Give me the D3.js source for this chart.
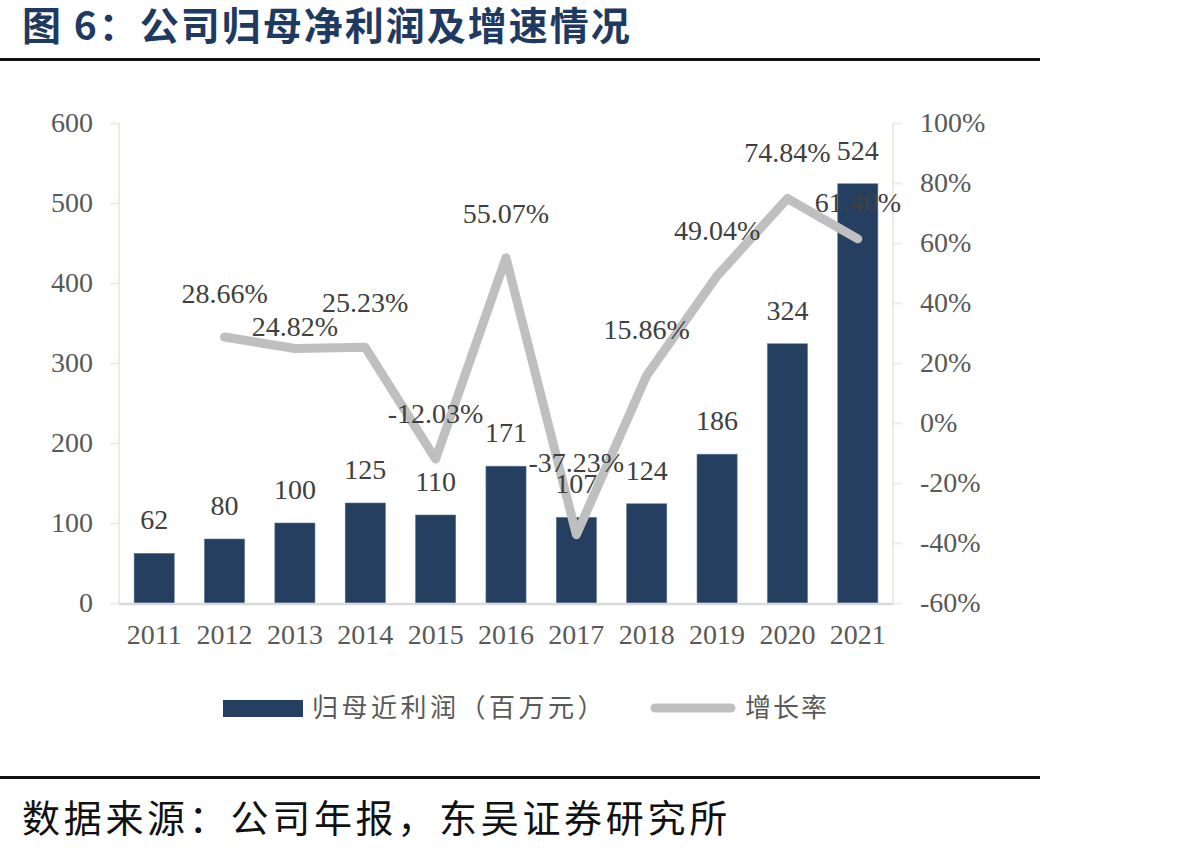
<!DOCTYPE html>
<html>
<head>
<meta charset="utf-8">
<script src="https://cdn.jsdelivr.net/npm/d3@7/dist/d3.min.js"></script>
<style>
  html, body { margin: 0; padding: 0; background: #fff; }
  svg { display: block; }
</style>
</head>
<body>
<svg id="chart" width="1182" height="852"></svg>
<script>
// ---- data ----
const years = ["2011","2012","2013","2014","2015","2016","2017","2018","2019","2020","2021"];
const profit = [62, 80, 100, 125, 110, 171, 107, 124, 186, 324, 524];
const growth = [null, 28.66, 24.82, 25.23, -12.03, 55.07, -37.23, 15.86, 49.04, 74.84, 61.40];
const leftTicks = [0, 100, 200, 300, 400, 500, 600];
const rightTicks = [-60, -40, -20, 0, 20, 40, 60, 80, 100];
const titleText = "图 6：公司归母净利润及增速情况";
const sourceText = "数据来源：公司年报，东吴证券研究所";
const legendBar = "归母近利润（百万元）";
const legendLine = "增长率";

// ---- layout ----
const svg = d3.select("#chart");
const plotL = 119, plotR = 893, plotT = 123, plotB = 603;
const serif = "'Liberation Serif', 'Times New Roman', serif";
const cjk = "'Noto Sans CJK SC', 'Noto Sans', sans-serif";
const barColor = "#253f61";
const lineColor = "#bfbfbf";

const x = d3.scaleBand().domain(years).range([plotL, plotR]).paddingInner(0.43).paddingOuter(0.215);
const yL = d3.scaleLinear().domain([0, 600]).range([plotB, plotT]);
const yR = d3.scaleLinear().domain([-60, 100]).range([plotB, plotT]);

svg.append("rect").attr("width", 1182).attr("height", 852).attr("fill", "#fff");

// title
svg.append("text").attr("x", 22).attr("y", 40)
  .attr("font-family", cjk).attr("font-weight", 700).attr("font-size", 39)
  .attr("fill", "#1f3a60").attr("letter-spacing", 2)
  .text(titleText);
svg.append("rect").attr("x", 0).attr("y", 58).attr("width", 1040).attr("height", 3).attr("fill", "#111");

// left axis
const gL = svg.append("g").attr("transform", `translate(${plotL},0)`)
  .call(d3.axisLeft(yL).tickValues(leftTicks).tickSize(9).tickPadding(17).tickFormat(d3.format("d")));
gL.select(".domain").attr("stroke", "#eeece1").attr("stroke-width", 2).attr("d", `M0,${plotT}V${plotB}`);
gL.selectAll(".tick line").attr("stroke", "#eeece1").attr("stroke-width", 2);
gL.selectAll(".tick text").attr("font-family", serif).attr("font-size", 28).attr("fill", "#595959");

// right axis
const gR = svg.append("g").attr("transform", `translate(${plotR},0)`)
  .call(d3.axisRight(yR).tickValues(rightTicks).tickSize(9).tickPadding(18).tickFormat(d => d + "%"));
gR.select(".domain").attr("stroke", "#eeece1").attr("stroke-width", 2).attr("d", `M0,${plotT}V${plotB}`);
gR.selectAll(".tick line").attr("stroke", "#eeece1").attr("stroke-width", 2);
gR.selectAll(".tick text").attr("font-family", serif).attr("font-size", 28).attr("fill", "#595959");

// bars
svg.append("g").selectAll("rect").data(profit).join("rect")
  .attr("x", (d, i) => x(years[i]))
  .attr("y", d => yL(d))
  .attr("width", x.bandwidth())
  .attr("height", d => yL(0) - yL(d))
  .attr("fill", barColor)
  .attr("stroke", "#5d7396").attr("stroke-width", 0.6);

// x baseline
svg.append("line").attr("x1", plotL).attr("x2", plotR).attr("y1", plotB + 1).attr("y2", plotB + 1)
  .attr("stroke", "#d9d9d9").attr("stroke-width", 2.5);

// x axis labels
const gX = svg.append("g").attr("transform", `translate(0,${plotB})`)
  .call(d3.axisBottom(x).tickSize(0).tickPadding(21));
gX.select(".domain").remove();
gX.selectAll(".tick text").attr("font-family", serif).attr("font-size", 28).attr("fill", "#595959");

// growth line
const pts = growth.map((g, i) => ({ g, i })).filter(d => d.g !== null);
const line = d3.line().x(d => x(years[d.i]) + x.bandwidth() / 2).y(d => yR(d.g));
svg.append("path").datum(pts).attr("d", line)
  .attr("fill", "none").attr("stroke", lineColor).attr("stroke-width", 9)
  .attr("stroke-linejoin", "round").attr("stroke-linecap", "round");

// bar labels
svg.append("g").selectAll("text").data(profit).join("text")
  .attr("x", (d, i) => x(years[i]) + x.bandwidth() / 2)
  .attr("y", d => yL(d) - 24)
  .attr("text-anchor", "middle")
  .attr("font-family", serif).attr("font-size", 28).attr("fill", "#404040")
  .text(d => d);

// growth labels (label offset above point; a few nudged as in the original)
const labelDy = [0, 44, 23, 45, 46, 45, 73, 46, 46, 46, 37];
svg.append("g").selectAll("text").data(pts).join("text")
  .attr("x", d => x(years[d.i]) + x.bandwidth() / 2)
  .attr("y", d => yR(d.g) - labelDy[d.i] + 10)
  .attr("text-anchor", "middle")
  .attr("font-family", serif).attr("font-size", 28).attr("fill", "#404040")
  .text(d => d.g.toFixed(2) + "%");

// legend
svg.append("rect").attr("x", 223).attr("y", 700).attr("width", 80).attr("height", 17).attr("fill", barColor);
svg.append("text").attr("x", 312).attr("y", 717)
  .attr("font-family", cjk).attr("font-size", 26).attr("fill", "#595959").attr("letter-spacing", 3.5).text(legendBar);
svg.append("line").attr("x1", 655).attr("x2", 731).attr("y1", 708).attr("y2", 708)
  .attr("stroke", lineColor).attr("stroke-width", 9).attr("stroke-linecap", "round");
svg.append("text").attr("x", 745).attr("y", 717)
  .attr("font-family", cjk).attr("font-size", 26).attr("fill", "#595959").attr("letter-spacing", 2).text(legendLine);

// bottom rule and source
svg.append("rect").attr("x", 0).attr("y", 776).attr("width", 1040).attr("height", 3).attr("fill", "#111");
svg.append("text").attr("x", 22).attr("y", 832)
  .attr("font-family", cjk).attr("font-size", 38).attr("fill", "#111").attr("letter-spacing", 3.7)
  .text(sourceText);
</script>
</body>
</html>
